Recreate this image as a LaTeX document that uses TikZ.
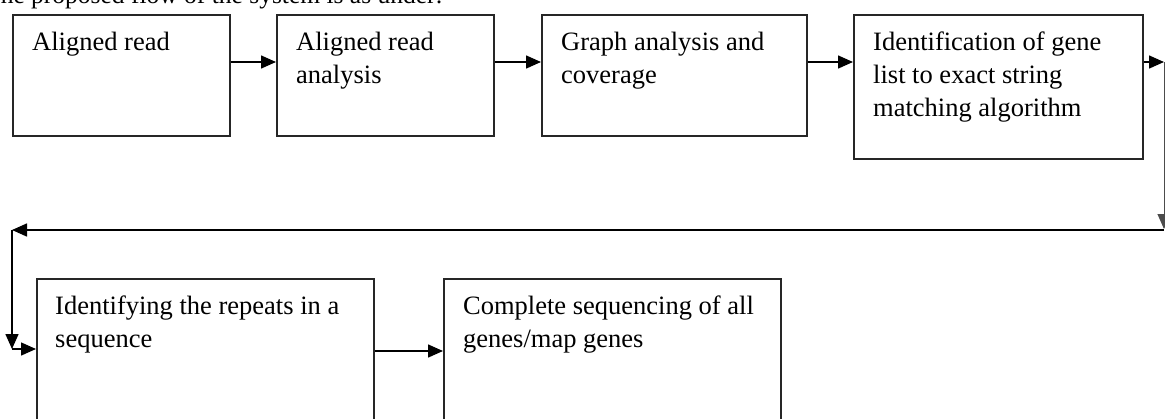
\documentclass[tikz,border=0pt]{standalone}
\usepackage{fontspec}
\setmainfont{Liberation Serif}
\usetikzlibrary{arrows.meta,calc}
\begin{document}
\begin{tikzpicture}[x=1pt,y=-1pt,
  box/.style={draw=black!85,line width=1.6pt,rectangle,anchor=north west,inner sep=0pt},
  lbl/.style={anchor=north west,inner sep=0pt,align=left,font=\fontsize{26.5}{33}\selectfont},
  conn/.style={line width=1.5pt,-{Triangle[length=15pt,width=13pt]}}]
\clip (0,0) rectangle (1165,418);
\node[anchor=base west,inner sep=0pt,font=\fontsize{25.5}{30}\selectfont] (title) at (-15,3.5) {The proposed flow of the system is as under:};
\node[box,minimum width=217pt,minimum height=121pt] (b1) at (12,14) {};
\node[box,minimum width=217pt,minimum height=121pt] (b2) at (276,14) {};
\node[box,minimum width=265pt,minimum height=121pt] (b3) at (541,14) {};
\node[box,minimum width=289pt,minimum height=144pt] (b4) at (853,14) {};
\node[box,minimum width=337pt,minimum height=170pt] (b5) at (36,278) {};
\node[box,minimum width=337pt,minimum height=170pt] (b6) at (443,278) {};
\node[lbl] (t1) at ($(b1.north west)+(20,18)$) {Aligned read};
\node[lbl] (t2) at ($(b2.north west)+(20,18)$) {Aligned read\\analysis};
\node[lbl] (t3) at ($(b3.north west)+(20,18)$) {Graph analysis and\\coverage};
\node[lbl] (t4) at ($(b4.north west)+(20,18)$) {Identification of gene\\list to exact string\\matching algorithm};
\node[lbl] (t5) at ($(b5.north west)+(19,18)$) {Identifying the repeats in a\\sequence};
\node[lbl] (t6) at ($(b6.north west)+(20,18)$) {Complete sequencing of all\\genes/map genes};
\coordinate (c1) at (1164,62);
\coordinate (c2) at (1164,229);
\coordinate (c3) at (12,230);
\coordinate (c4) at (12,349);
\draw[conn] ($(b1.north east)+(0,48)$) -- ($(b2.north west)+(0,48)$);
\draw[conn] ($(b2.north east)+(0,48)$) -- ($(b3.north west)+(0,48)$);
\draw[conn] ($(b3.north east)+(0,48)$) -- ($(b4.north west)+(0,48)$);
\draw[conn] ($(b4.north east)+(0,48)$) -- (c1);
\draw[conn,line width=1pt,draw=black!70] (c1) -- (c2);
\draw[conn] (c2 |- c3) -- (c3);
\draw[conn] (c3) -- (c4);
\draw[conn] (c4) -- (b5.west |- c4);
\draw[conn] ($(b5.north east)+(0,73)$) -- ($(b6.north west)+(0,73)$);
\end{tikzpicture}
\end{document}
